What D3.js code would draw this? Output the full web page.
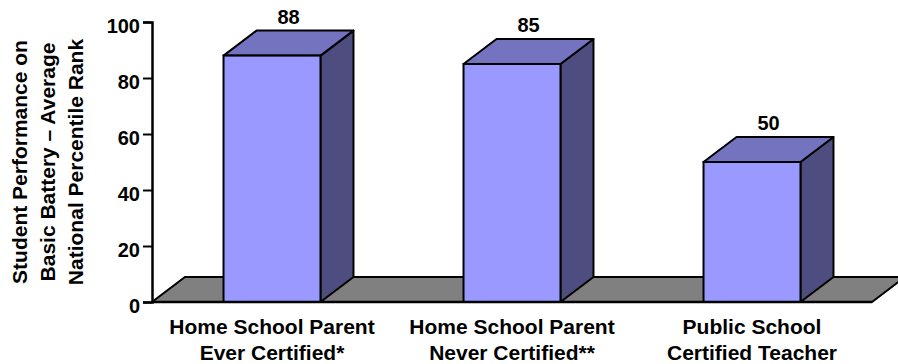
<!DOCTYPE html>
<html>
<head>
<meta charset="utf-8">
<script src="https://cdn.jsdelivr.net/npm/d3@7"></script>
<style>
  body { margin: 0; background: #fff; }
  svg text { font-family: Arial, "Liberation Sans", sans-serif; font-weight: bold; fill: #000; }
</style>
</head>
<body>
<div id="chart"></div>
<script>
const categories = [
  ["Home School Parent", "Ever Certified*"],
  ["Home School Parent", "Never Certified**"],
  ["Public School", "Certified Teacher"]
];
const values = [88, 85, 50];
const yTicks = [0, 20, 40, 60, 80, 100];
const yTitle = ["Student Performance on", "Basic Battery \u2013 Average", "National Percentile Rank"];

const width = 898, height = 364;
const plotLeft = 152, plotRight = 872, plotTop = 22, plotBottom = 302;
const depthX = 33, depthY = -25;

const svg = d3.select("#chart").append("svg")
  .attr("width", width)
  .attr("height", height);

const keys = categories.map((c, i) => i);
const x = d3.scaleBand().domain(keys).range([plotLeft, plotRight]);
const y = d3.scaleLinear().domain([0, 100]).range([plotBottom, plotTop]);

const barW = x.bandwidth() * 0.404;

// floor
svg.append("polygon")
  .attr("points", [[plotLeft, plotBottom], [plotRight, plotBottom], [plotRight + depthX, plotBottom + depthY], [plotLeft + depthX, plotBottom + depthY]].join(" "))
  .attr("fill", "#808080")
  .attr("stroke", "#000")
  .attr("stroke-width", 2);

// bars
const bars = svg.append("g").selectAll("g")
  .data(values)
  .join("g");

bars.each(function(v, i) {
  const g = d3.select(this);
  const x0 = x(i) + (x.bandwidth() - barW) / 2;
  const x1 = x0 + barW;
  const yv = y(v);
  // side
  g.append("polygon")
    .attr("points", [[x1, yv], [x1 + depthX, yv + depthY], [x1 + depthX, plotBottom + depthY], [x1, plotBottom]].join(" "))
    .attr("fill", "#4d4d80").attr("stroke", "#000").attr("stroke-width", 2).attr("stroke-linejoin", "round");
  // top
  g.append("polygon")
    .attr("points", [[x0, yv], [x0 + depthX, yv + depthY], [x1 + depthX, yv + depthY], [x1, yv]].join(" "))
    .attr("fill", "#7373bf").attr("stroke", "#000").attr("stroke-width", 2).attr("stroke-linejoin", "round");
  // front
  g.append("rect")
    .attr("x", x0).attr("y", yv)
    .attr("width", barW).attr("height", plotBottom - yv)
    .attr("fill", "#9999ff").attr("stroke", "#000").attr("stroke-width", 2);
  // value label
  g.append("text")
    .attr("x", (x0 + x1) / 2 + depthX / 2)
    .attr("y", yv + depthY - 7)
    .attr("text-anchor", "middle")
    .style("font-size", "20px")
    .text(v);
});

// front floor edge
svg.append("line")
  .attr("x1", plotLeft).attr("x2", plotRight)
  .attr("y1", plotBottom).attr("y2", plotBottom)
  .attr("stroke", "#000").attr("stroke-width", 2.5);

// y axis
const yAxis = svg.append("g")
  .attr("transform", `translate(${plotLeft},0)`)
  .call(d3.axisLeft(y).tickValues(yTicks).tickSize(9).tickPadding(3));
yAxis.select(".domain").attr("stroke-width", 2.5);
yAxis.selectAll(".tick line").attr("stroke-width", 2);
yAxis.selectAll(".tick text")
  .attr("dy", "0.5em")
  .style("font-size", "20px")
  .style("font-family", "Arial, 'Liberation Sans', sans-serif")
  .style("font-weight", "bold");

// x labels
categories.forEach((lines, i) => {
  const t = svg.append("text")
    .attr("text-anchor", "middle")
    .style("font-size", "21px");
  lines.forEach((ln, j) => {
    t.append("tspan")
      .attr("x", x(i) + x.bandwidth() / 2)
      .attr("y", 334 + j * 26)
      .text(ln);
  });
});

// y title
const yTitleText = svg.append("text")
  .attr("transform", "translate(0,162) rotate(-90)")
  .attr("text-anchor", "middle")
  .style("font-size", "21px");
yTitle.forEach((ln, j) => {
  yTitleText.append("tspan")
    .attr("x", 0)
    .attr("y", 27 + j * 28)
    .text(ln);
});
</script>
</body>
</html>
